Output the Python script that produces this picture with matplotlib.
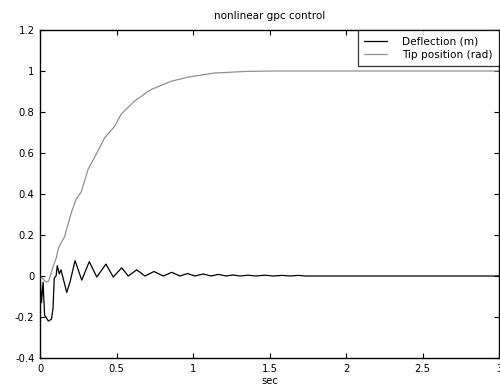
import matplotlib
matplotlib.use("Agg")
import matplotlib.pyplot as plt

# Tip position (rad)
tip_t = [0, 0.02, 0.041, 0.057, 0.085, 0.107, 0.118, 0.14, 0.16, 0.205, 0.237, 0.27,
         0.314, 0.368, 0.423, 0.488, 0.531, 0.62, 0.727, 0.858, 0.967, 1.14, 1.35, 1.55, 3.0]
tip_v = [0, -0.015, -0.03, -0.025, 0.045, 0.09, 0.13, 0.165, 0.19, 0.31, 0.375, 0.41,
         0.52, 0.595, 0.675, 0.73, 0.79, 0.855, 0.91, 0.95, 0.97, 0.99, 0.998, 1.0, 1.0]

# Deflection (m)
def_t = [0, 0.01, 0.02, 0.03, 0.055, 0.075, 0.085, 0.093, 0.105, 0.113, 0.126, 0.137,
         0.175, 0.196, 0.229, 0.273, 0.322, 0.371, 0.431, 0.479, 0.534, 0.577, 0.632,
         0.686, 0.745, 0.806, 0.861, 0.915, 0.965, 1.013, 1.067, 1.118, 1.165, 1.216,
         1.261, 1.307, 1.359, 1.412, 1.47, 1.523, 1.582, 1.634, 1.686, 1.739, 3.0]
def_v = [0, -0.13, -0.03, -0.19, -0.22, -0.21, -0.16, -0.01, 0, 0.05, 0.01, 0.03,
         -0.08, -0.03, 0.075, -0.02, 0.07, -0.005, 0.058, -0.005, 0.04, 0, 0.03,
         0, 0.022, 0, 0.018, 0, 0.012, 0, 0.01, 0, 0.008, 0,
         0.005, 0, 0.004, 0, 0.004, 0, 0.003, 0, 0.003, 0, 0]

x_ticks = [0, 0.5, 1, 1.5, 2, 2.5, 3]
y_ticks = [-0.4, -0.2, 0, 0.2, 0.4, 0.6, 0.8, 1, 1.2]

plt.rcParams['font.family'] = ['DejaVu Sans']
fig = plt.figure(figsize=(5.0, 3.92), dpi=100)
ax = fig.add_axes([0.08, 0.0867, 0.918, 0.8368])

ax.plot(def_t, def_v, color='black', lw=0.9, solid_joinstyle='round',
        label='Deflection (m)')
ax.plot(tip_t, tip_v, color='#909090', lw=0.9, solid_joinstyle='round',
        label='Tip position (rad)')

ax.set_xlim(0, 3)
ax.set_ylim(-0.4, 1.2)
ax.set_xticks(x_ticks)
ax.set_xticklabels(['0', '0.5', '1', '1.5', '2', '2.5', '3'])
ax.set_yticks(y_ticks)
ax.set_yticklabels(['-0.4', '-0.2', '0', '0.2', '0.4', '0.6', '0.8', '1', '1.2'])
ax.tick_params(direction='in', length=3.5, width=0.8, top=True, right=True,
               labelsize=7.2, pad=4)
for s in ax.spines.values():
    s.set_linewidth(1.0)

ax.set_title('nonlinear gpc control', fontsize=7.5, pad=8)
ax.set_xlabel('sec', fontsize=7.2, labelpad=2)

leg = ax.legend(loc='upper right', fontsize=7.6, frameon=True, fancybox=False,
                edgecolor='black', borderaxespad=0, handlelength=2.2,
                borderpad=0.6, labelspacing=0.35, handletextpad=1.4)
leg.get_frame().set_linewidth(0.9)

fig.savefig('out.png', dpi=100)
